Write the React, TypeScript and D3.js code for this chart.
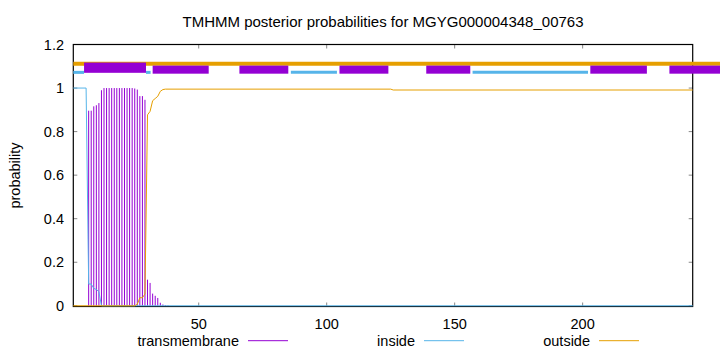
import React from "react";
import * as d3 from "d3";

const title = "TMHMM posterior probabilities for MGYG000004348_00763";
const yLabel = "probability";
const xDomain: [number, number] = [1, 243];
const yDomain: [number, number] = [0, 1.2];
const xTicks = [50, 100, 150, 200];
const yTicks = [0, 0.2, 0.4, 0.6, 0.8, 1, 1.2];
const yTickLabels = ["0", "0.2", "0.4", "0.6", "0.8", "1", "1.2"];

// transmembrane posterior (impulses)
const tmResidues = [7, 8, 9, 10, 11, 12, 13, 14, 15, 16, 17, 18, 19, 20, 21, 22, 23, 24, 25, 26, 27, 28, 29, 30, 31, 32, 33, 34, 35, 36, 37, 38];
const tmValues = [0.896, 0.896, 0.916, 0.921, 0.931, 0.99, 1, 1, 1, 1, 1, 1, 1, 1, 1, 1, 1, 1, 0.998, 0.993, 0.963, 0.963, 0.946, 0.12, 0.105, 0.056, 0.046, 0.036, 0.014, 0.006, 0.003, 0.002];

// inside posterior (line vertices)
const insideResidues = [1, 6, 7, 8, 9, 10, 11, 12, 243];
const insideValues = [1, 1, 0.1, 0.1, 0.08, 0.075, 0.065, 0.0, 0.0];

// outside posterior (line vertices)
const outsideResidues = [1, 25, 26, 27, 28, 29, 30, 31, 32, 33, 34, 35, 36, 37, 125, 126, 243];
const outsideValues = [0, 0, 0.007, 0.037, 0.037, 0.054, 0.877, 0.893, 0.942, 0.952, 0.962, 0.985, 0.993, 0.995, 0.995, 0.991, 0.991];

// predicted topology bars at the top
const topTmStart = [5.2, 32, 65.9, 105, 138.9, 203, 233.9];
const topTmEnd = [29.4, 53.9, 85, 124.1, 156.1, 225.1, 254];
const topInsideStart = [1, 29.4, 86, 157];
const topInsideEnd = [5.2, 31.2, 104, 202.1];
const topOutsideStart = [1];
const topOutsideEnd = [254];

const legendLabels = ["transmembrane", "inside", "outside"];

const TM = "#9400d3";
const IN = "#56b4e9";
const OUT = "#e69f00";
const FONT = "'Liberation Sans', Arial, Helvetica, sans-serif";

export default function App() {
  const W = 720, H = 352;
  const L = 73.3, R = 692.7, T = 44.5, B = 306.5;
  const x = d3.scaleLinear().domain(xDomain).range([L, R]);
  const y = d3.scaleLinear().domain(yDomain).range([305.8, T]);
  const line = d3.line<[number, number]>().x(d => x(d[0])).y(d => y(d[1]));
  const insidePts = insideResidues.map((r, i) => [r, insideValues[i]] as [number, number]);
  const outsidePts = outsideResidues.map((r, i) => [r, outsideValues[i]] as [number, number]);
  const tickLen = 4;
  const fs = 14.5;
  const legendColors = [TM, IN, OUT];
  const legendTextEnd = [239, 415, 590];

  return (
    <svg width={W} height={H} style={{ position: "absolute", left: 0, top: 0, background: "#fff" }} fontFamily={FONT}>
      <rect x={0} y={0} width={W} height={H} fill="#fff" />
      <text x={383} y={26.5} fontSize={15} textAnchor="middle" fill="#000">{title}</text>

      {/* ticks */}
      {yTicks.map((t, i) => (
        <g key={"yt" + i}>
          <line x1={L} x2={L + tickLen} y1={y(t)} y2={y(t)} stroke="#888" strokeWidth={1} />
          <line x1={R} x2={R - tickLen} y1={y(t)} y2={y(t)} stroke="#888" strokeWidth={1} />
          <text x={64} y={y(t)} fontSize={fs} textAnchor="end" dominantBaseline="central" fill="#000">{yTickLabels[i]}</text>
        </g>
      ))}
      {xTicks.map((t, i) => (
        <g key={"xt" + i}>
          <line x1={x(t)} x2={x(t)} y1={B} y2={B - tickLen} stroke="#888" strokeWidth={1} />
          <line x1={x(t)} x2={x(t)} y1={T} y2={T + tickLen} stroke="#888" strokeWidth={1} />
          <text x={x(t)} y={323.5} fontSize={fs} textAnchor="middle" dominantBaseline="central" fill="#000">{t}</text>
        </g>
      ))}

      <text transform={`translate(15,${(T + B) / 2}) rotate(-90)`} fontSize={fs} textAnchor="middle" dominantBaseline="central" fill="#000">{yLabel}</text>

      {/* border */}
      <rect x={L} y={T} width={R - L} height={B - T} fill="none" stroke="#000" strokeWidth={1.2} />

      {/* top topology bars */}
      {topOutsideStart.map((s, i) => (
        <line key={"to" + i} x1={x(s)} x2={x(topOutsideEnd[i])} y1={y(1.112)} y2={y(1.112)} stroke={OUT} strokeWidth={4} />
      ))}
      {topInsideStart.map((s, i) => (
        <line key={"ti" + i} x1={x(s)} x2={x(topInsideEnd[i])} y1={y(1.072)} y2={y(1.072)} stroke={IN} strokeWidth={3} />
      ))}
      {topTmStart.map((s, i) => {
        const top = i === 0 ? y(1.117) : y(1.103);
        const bot = i === 0 ? y(1.07) : y(1.066);
        return <rect key={"tt" + i} x={x(s)} y={top} width={x(topTmEnd[i]) - x(s)} height={bot - top} fill={TM} />;
      })}

      {/* posterior curves */}
      {tmResidues.map((r, i) => (
        <line key={"imp" + i} x1={x(r)} x2={x(r)} y1={y(0)} y2={y(tmValues[i])} stroke={TM} strokeWidth={1} />
      ))}
      <path d={line(insidePts) || ""} fill="none" stroke={IN} strokeWidth={1} />
      <path d={line(outsidePts) || ""} fill="none" stroke={OUT} strokeWidth={1} />

      {/* legend */}
      {legendLabels.map((lab, i) => (
        <g key={"lg" + i}>
          <text x={legendTextEnd[i]} y={341} fontSize={fs} textAnchor="end" dominantBaseline="central" fill="#000">{lab}</text>
          <line x1={legendTextEnd[i] + 9} x2={legendTextEnd[i] + 49} y1={340.7} y2={340.7} stroke={legendColors[i]} strokeWidth={1} />
        </g>
      ))}
    </svg>
  );
}
